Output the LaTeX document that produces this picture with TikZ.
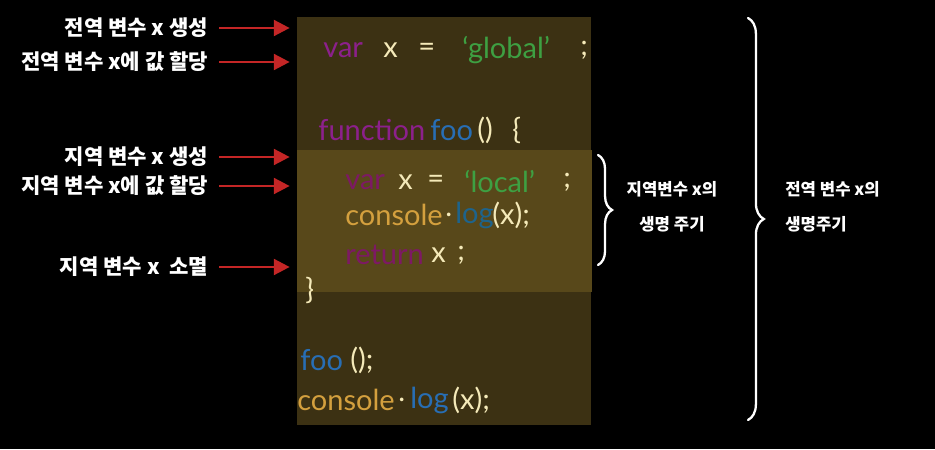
\documentclass[tikz,border=0pt]{standalone}
\usepackage{fontspec}
\setmainfont{Noto Sans CJK KR}
\newfontfamily\codefont{Lato}
\usetikzlibrary{arrows.meta,positioning,decorations.pathreplacing}

\definecolor{panelbg}{RGB}{60,49,19}
\definecolor{bandbg}{RGB}{88,72,26}
\definecolor{arrred}{RGB}{196,38,38}
\definecolor{kwpurple}{RGB}{140,32,140}
\definecolor{kwmagenta}{RGB}{125,25,100}
\definecolor{strgreen}{RGB}{62,160,66}
\definecolor{fnblue}{RGB}{40,110,180}
\definecolor{logteal}{RGB}{30,100,140}
\definecolor{consgold}{RGB}{212,160,62}
\definecolor{plaincream}{RGB}{245,234,185}

\begin{document}
\begin{tikzpicture}[
  x=0.02cm, y=-0.02cm,
  glab/.style={text=white, font=\bfseries\fontsize{12}{14}\selectfont, anchor=east, inner sep=2pt},
  redarr/.style={-{Triangle[length=9pt, width=9pt]}, arrred, line width=1.5pt, shorten <=4pt, shorten >=4pt},
  tok/.style={anchor=west, inner sep=0pt, font=\codefont\fontsize{16.5}{20}\selectfont},
  kw/.style={tok, text=kwpurple},
  kwm/.style={tok, text=kwmagenta},
  str/.style={tok, text=strgreen},
  fn/.style={tok, text=fnblue},
  lg/.style={tok, text=logteal},
  cons/.style={tok, text=consgold},
  pl/.style={tok, text=plaincream},
  bracepen/.style={white, line width=1.3pt, line cap=round},
  life/.style={text=white, font=\bfseries\fontsize{9.5}{20}\selectfont, inner sep=0pt}
]
% background and code panel
\fill[black] (0,0) rectangle (935,449);
\node[fill=panelbg, minimum width=5.88cm, minimum height=8.16cm, inner sep=0pt] (panel) at (444,221) {};
\fill[bandbg] (297,150) rectangle (592,292);

% labels on the left
\node[glab] (g1) at (212,28) {전역 변수 x 생성};
\node[glab] (g2) at (212,62) {전역 변수 x에 값 할당};
\node[glab] (l1) at (212,157) {지역 변수 x 생성};
\node[glab] (l2) at (212,186) {지역 변수 x에 값 할당};
\node[glab] (l3) at (212,267) {지역 변수 x\ \ 소멸};

\foreach \n in {g1,g2,l1,l2,l3}
  \draw[redarr] (\n.east) -- (\n.east -| panel.west);

% code
\node[kw] (c1a) at (323,50) {var};
\node[pl] (c1b) at (383,50) {x};
\node[pl] (c1c) at (418,50) {=};
\node[str] (c1d) at (462,50) {‘global’};
\node[pl] (c1e) at (580,50) {;};

\node[kw] (c2a) at (318,130) {function};
\node[fn] (c2b) at (430,130) {foo};
\node[pl] (c2c) at (477,130) {()};
\node[pl] (c2d) at (512,130) {\{};

\node[kwm] (c3a) at (345,182) {var};
\node[pl] (c3b) at (398,182) {x};
\node[pl] (c3c) at (427,182) {=};
\node[str] (c3d) at (464,182) {‘local’};
\node[pl] (c3e) at (563,182) {;};

\node[cons] (c4a) at (345,215) {console};
\node[pl] (c4b) at (445,215) {.};
\node[lg] (c4c) at (455,215) {log};
\node[pl] (c4d) at (492,215) {(x);};

\node[kwm] (c5a) at (345,255) {return};
\node[pl] (c5b) at (431,255) {x};
\node[pl] (c5c) at (457,255) {;};

\node[pl] (c6a) at (305,290) {\}};

\node[fn] (c7a) at (300,360) {foo};
\node[pl] (c7b) at (350,360) {();};

\node[cons] (c8a) at (297,400) {console};
\node[pl] (c8b) at (398,400) {.};
\node[fn] (c8c) at (410,400) {log};
\node[pl] (c8d) at (452,400) {(x);};

% lifetime braces
\coordinate (sb1) at (598,155);
\coordinate (sb2) at (598,265);
\draw[bracepen, decoration={brace, amplitude=8pt}, decorate] (sb1) -- (sb2);
\node[life, align=center] (loclife) at (672,207) {지역변수 x의\\생명 주기};

\coordinate (bb1) at (748,18);
\coordinate (bb2) at (748,420);
\draw[bracepen, decoration={brace, amplitude=9pt}, decorate] (bb1) -- (bb2);
\node[life, align=left, anchor=west] (glolife) at (785,207) {전역 변수 x의\\생명주기};
\end{tikzpicture}
\end{document}
